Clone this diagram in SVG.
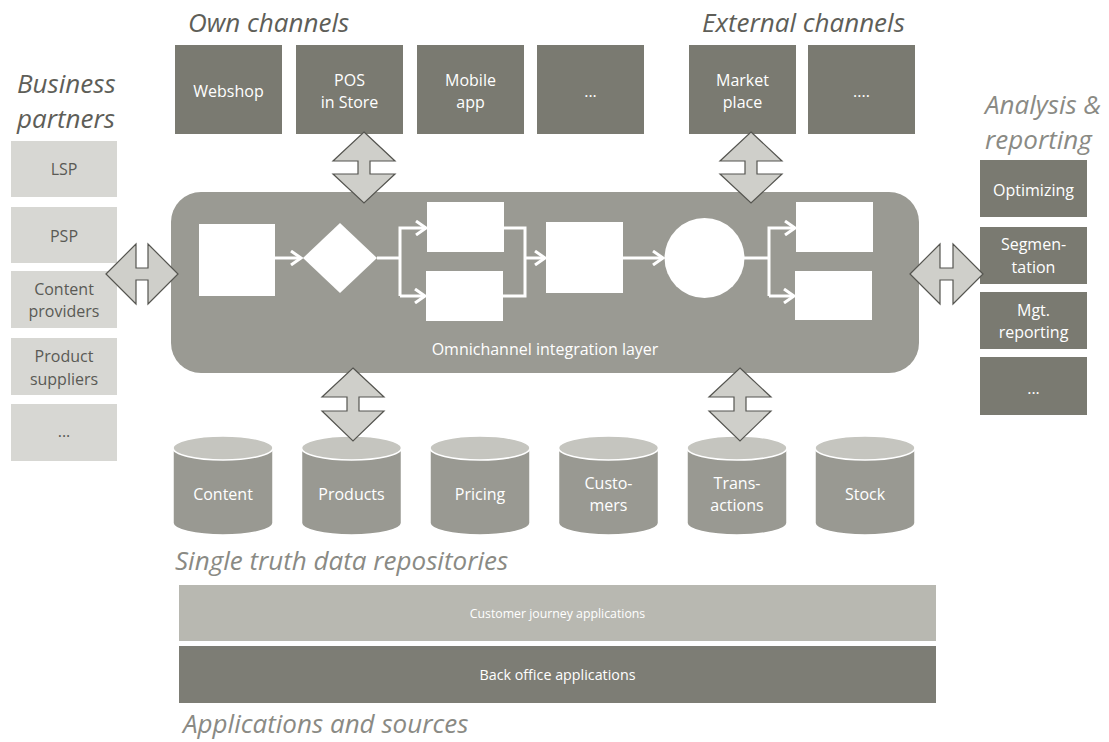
<svg xmlns="http://www.w3.org/2000/svg" width="1109" height="742" viewBox="0 0 1109 742">
<style>
.title{font-family:"Open Sans","Liberation Sans",sans-serif;font-style:italic;font-size:26px;fill:#5e5e58}
.title2{font-family:"Open Sans","Liberation Sans",sans-serif;font-style:italic;font-size:26px;fill:#8a8a84}
.dbox{fill:#7a7a71}
.lbox{fill:#d7d7d3}
.wt{font-family:"Open Sans","Liberation Sans",sans-serif;font-size:16px;fill:#ffffff;text-anchor:middle}
.gt{font-family:"Open Sans","Liberation Sans",sans-serif;font-size:16px;fill:#5a5a55;text-anchor:middle}
.ct{font-family:"Open Sans","Liberation Sans",sans-serif;font-size:16px;fill:#ffffff;text-anchor:middle}
.dbl{fill:#cfcfca;stroke:#555550;stroke-width:1.2}
.flow{fill:none;stroke:#ffffff;stroke-width:3}
.ws{fill:#ffffff}
.cylb{fill:#999992;stroke:#ffffff;stroke-width:1.5}
.cylt{fill:#c5c5bf;stroke:#ffffff;stroke-width:1.5}
</style>
<defs>
<marker id="ah" markerUnits="userSpaceOnUse" markerWidth="14" markerHeight="16" refX="11" refY="8" orient="auto">
<path d="M1,1 L11,8 L1,15" fill="none" stroke="#ffffff" stroke-width="3"/>
</marker>
</defs>
<rect width="1109" height="742" fill="#ffffff"/>

<!-- titles -->
<text class="title" x="188" y="32">Own channels</text>
<text class="title" x="702" y="32">External channels</text>
<text class="title" x="17" y="93">Business</text>
<text class="title" x="17" y="128">partners</text>
<text class="title2" x="985" y="114">Analysis &amp;</text>
<text class="title2" x="985" y="149">reporting</text>
<text class="title2" x="175" y="570">Single truth data repositories</text>
<text class="title2" x="183" y="733">Applications and sources</text>

<!-- own channels -->
<g id="webshop"><rect class="dbox" x="175" y="45" width="107" height="89"/><text class="wt" x="228.5" y="97">Webshop</text></g>
<g id="pos"><rect class="dbox" x="296" y="45" width="107" height="89"/><text class="wt" x="349.5" y="86">POS</text><text class="wt" x="349.5" y="108">in Store</text></g>
<g id="mobile"><rect class="dbox" x="417" y="45" width="107" height="89"/><text class="wt" x="470.5" y="86">Mobile</text><text class="wt" x="470.5" y="108">app</text></g>
<g id="own-more"><rect class="dbox" x="537" y="45" width="107" height="89"/><text class="wt" x="590.5" y="97">...</text></g>
<g id="market"><rect class="dbox" x="689" y="45" width="107" height="89"/><text class="wt" x="742.5" y="86">Market</text><text class="wt" x="742.5" y="108">place</text></g>
<g id="ext-more"><rect class="dbox" x="808" y="45" width="107" height="89"/><text class="wt" x="861.5" y="97">....</text></g>

<!-- business partners -->
<g id="lsp"><rect class="lbox" x="11" y="141" width="106" height="56"/><text class="gt" x="64" y="175">LSP</text></g>
<g id="psp"><rect class="lbox" x="11" y="207" width="106" height="56"/><text class="gt" x="64" y="242">PSP</text></g>
<g id="content-prov"><rect class="lbox" x="11" y="271" width="106" height="57"/><text class="gt" x="64" y="295">Content</text><text class="gt" x="64" y="317">providers</text></g>
<g id="product-supp"><rect class="lbox" x="11" y="338" width="106" height="57"/><text class="gt" x="64" y="362">Product</text><text class="gt" x="64" y="385">suppliers</text></g>
<g id="partner-more"><rect class="lbox" x="11" y="404" width="106" height="57"/><text class="gt" x="64" y="437">...</text></g>

<!-- analysis -->
<g id="optimizing"><rect class="dbox" x="980" y="160" width="107" height="57"/><text class="wt" x="1033.5" y="196">Optimizing</text></g>
<g id="segmentation"><rect class="dbox" x="980" y="227" width="107" height="57"/><text class="wt" x="1033.5" y="250">Segmen-</text><text class="wt" x="1033.5" y="273">tation</text></g>
<g id="mgt"><rect class="dbox" x="980" y="292" width="107" height="57"/><text class="wt" x="1033.5" y="316">Mgt.</text><text class="wt" x="1033.5" y="338">reporting</text></g>
<g id="analysis-more"><rect class="dbox" x="980" y="357" width="107" height="58"/><text class="wt" x="1033.5" y="394">...</text></g>

<!-- integration layer -->
<g id="integration-layer">
<rect x="171" y="192" width="748" height="181" rx="30" fill="#9a9a93"/>
<text class="ct" x="545" y="355">Omnichannel integration layer</text>
</g>
<g id="step1"><rect class="ws" x="199" y="224" width="76" height="72"/></g>
<g id="decision"><polygon class="ws" points="340,223 377,258 340,293 303,258"/></g>
<g id="step2a"><rect class="ws" x="427" y="202" width="77" height="50"/></g>
<g id="step2b"><rect class="ws" x="426" y="271" width="77" height="50"/></g>
<g id="step3"><rect class="ws" x="546" y="222" width="77" height="71"/></g>
<g id="event"><circle class="ws" cx="704.5" cy="258" r="40"/></g>
<g id="step4a"><rect class="ws" x="796" y="202" width="77" height="50"/></g>
<g id="step4b"><rect class="ws" x="795" y="271" width="77" height="49"/></g>

<!-- cylinders -->
<g id="db-content"><path class="cylb" d="M173,448 L173,523 A50,12 0 0 0 273,523 L273,448 Z"/><ellipse class="cylt" cx="223" cy="448" rx="50" ry="12"/><text class="ct" x="223" y="500">Content</text></g>
<g id="db-products"><path class="cylb" d="M301.5,448 L301.5,523 A50,12 0 0 0 401.5,523 L401.5,448 Z"/><ellipse class="cylt" cx="351.5" cy="448" rx="50" ry="12"/><text class="ct" x="351.5" y="500">Products</text></g>
<g id="db-pricing"><path class="cylb" d="M430,448 L430,523 A50,12 0 0 0 530,523 L530,448 Z"/><ellipse class="cylt" cx="480" cy="448" rx="50" ry="12"/><text class="ct" x="480" y="500">Pricing</text></g>
<g id="db-customers"><path class="cylb" d="M558.5,448 L558.5,523 A50,12 0 0 0 658.5,523 L658.5,448 Z"/><ellipse class="cylt" cx="608.5" cy="448" rx="50" ry="12"/><text class="ct" x="608.5" y="489">Custo-</text><text class="ct" x="608.5" y="511">mers</text></g>
<g id="db-transactions"><path class="cylb" d="M687,448 L687,523 A50,12 0 0 0 787,523 L787,448 Z"/><ellipse class="cylt" cx="737" cy="448" rx="50" ry="12"/><text class="ct" x="737" y="489">Trans-</text><text class="ct" x="737" y="511">actions</text></g>
<g id="db-stock"><path class="cylb" d="M815,448 L815,523 A50,12 0 0 0 915,523 L915,448 Z"/><ellipse class="cylt" cx="865" cy="448" rx="50" ry="12"/><text class="ct" x="865" y="500">Stock</text></g>

<!-- application bars -->
<g id="customer-journey"><rect x="179" y="585" width="757" height="56" fill="#b8b8b1"/><text x="557.5" y="618" font-family="Open Sans, Liberation Sans, sans-serif" font-size="12.3" fill="#ffffff" text-anchor="middle">Customer journey applications</text></g>
<g id="back-office"><rect x="179" y="646" width="757" height="57" fill="#7d7d75"/><text x="557.5" y="680" font-family="Open Sans, Liberation Sans, sans-serif" font-size="14.3" fill="#ffffff" text-anchor="middle">Back office applications</text></g>

<!-- connectors -->
<g id="connectors">
<path class="flow" d="M275,258 L301,258" marker-end="url(#ah)"/>
<path class="flow" d="M377,258 L400,258"/>
<path class="flow" d="M400,296 L400,228 L426,228" marker-end="url(#ah)"/>
<path class="flow" d="M400,296 L425,296" marker-end="url(#ah)"/>
<path class="flow" d="M504,228 L525,228 L525,296 L503,296"/>
<path class="flow" d="M525,258 L545,258" marker-end="url(#ah)"/>
<path class="flow" d="M623,258 L663,258" marker-end="url(#ah)"/>
<path class="flow" d="M744,258 L769,258"/>
<path class="flow" d="M769,296 L769,228 L795,228" marker-end="url(#ah)"/>
<path class="flow" d="M769,296 L794,296" marker-end="url(#ah)"/>
<!-- double arrows -->
<path class="dbl" d="M106,274 L136,244 L136,268 L148,268 L148,244 L178,274 L148,304 L148,280 L136,280 L136,304 Z"/>
<path class="dbl" d="M910,274 L940,244 L940,268 L953,268 L953,244 L983,274 L953,304 L953,280 L940,280 L940,304 Z"/>
<path class="dbl" d="M364,132 L395,161 L370,161 L370,174 L395,174 L364,203 L333,174 L358,174 L358,161 L333,161 Z"/>
<path class="dbl" d="M751,132 L782,161 L757,161 L757,174 L782,174 L751,203 L720,174 L745,174 L745,161 L720,161 Z"/>
<path class="dbl" d="M353,368 L384,397 L359,397 L359,411 L384,411 L353,441 L322,411 L347,411 L347,397 L322,397 Z"/>
<path class="dbl" d="M740,368 L771,397 L746,397 L746,411 L771,411 L740,441 L709,411 L734,411 L734,397 L709,397 Z"/>
</g>
</svg>
